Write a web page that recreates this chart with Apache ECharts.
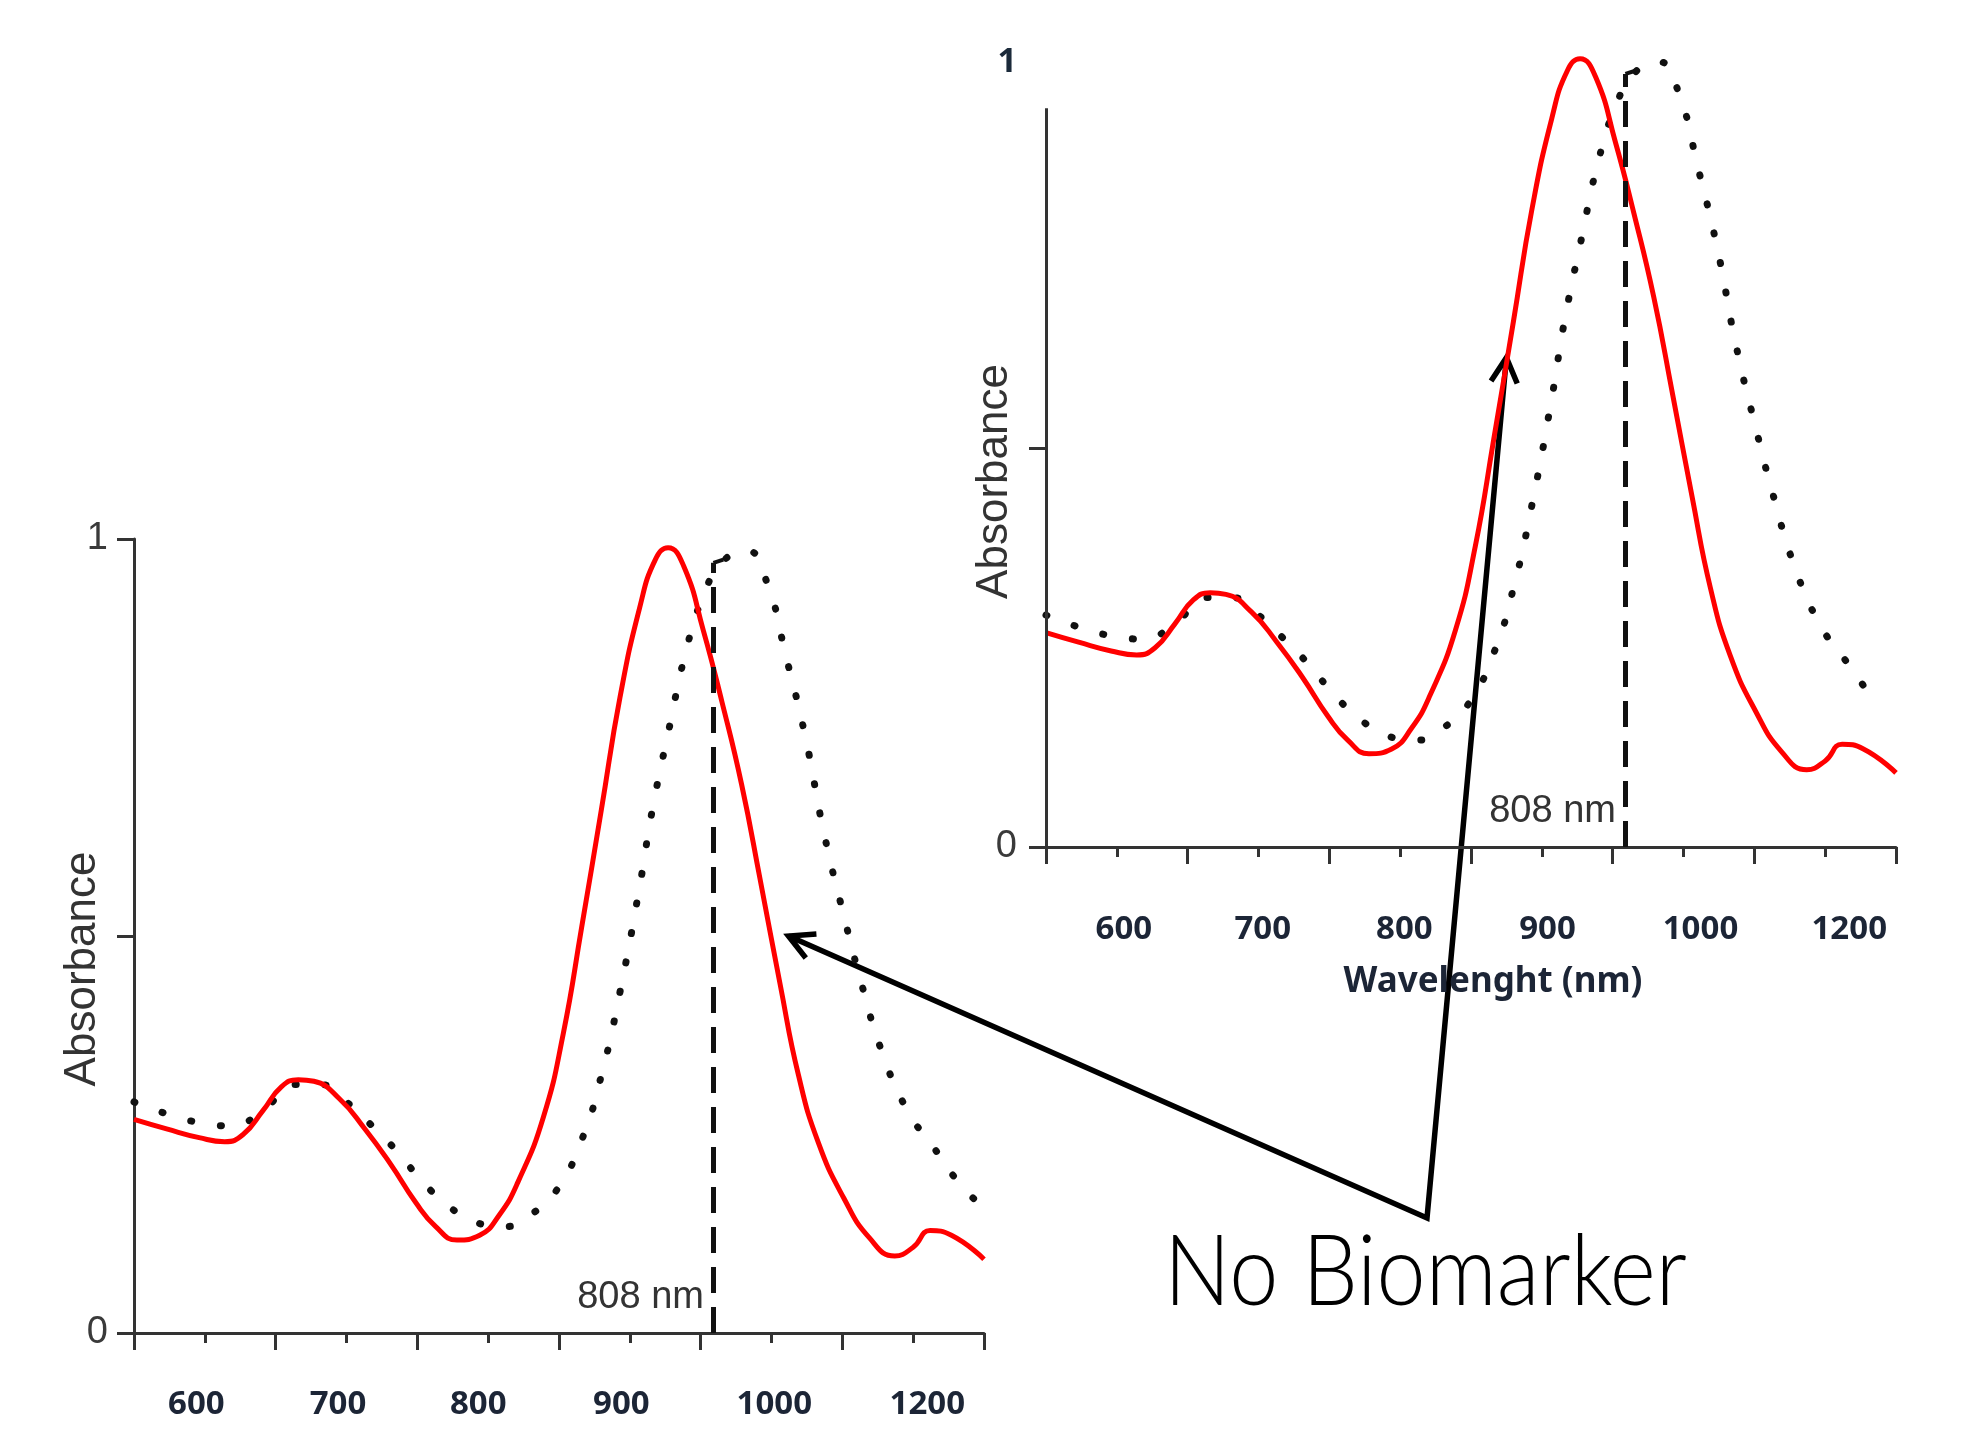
<!DOCTYPE html>
<html>
<head>
<meta charset="utf-8">
<script src="https://cdn.jsdelivr.net/npm/echarts@6/dist/echarts.min.js"></script>
<style>
  html, body { margin: 0; padding: 0; background: #fff; }
  #main { width: 1964px; height: 1430px; }
</style>
</head>
<body>
<div id="main"></div>
<script>
// spectra (wavelength in the chart's own axis units, absorbance 0..1)
var redNm  = [550, 573, 596, 614, 627, 641, 654, 666, 677, 695, 713, 731, 749, 763, 778, 794, 808, 821, 839, 853, 866, 880, 893, 907, 918, 927, 938, 952, 965, 979, 992, 1006, 1019, 1033, 1051, 1069, 1087, 1100, 1112, 1127, 1150];
var redAbs = [0.269, 0.257, 0.246, 0.241, 0.25, 0.28, 0.31, 0.319, 0.317, 0.295, 0.257, 0.213, 0.164, 0.134, 0.117, 0.123, 0.149, 0.19, 0.272, 0.377, 0.511, 0.66, 0.80, 0.914, 0.974, 0.989, 0.966, 0.884, 0.795, 0.69, 0.571, 0.44, 0.325, 0.24, 0.17, 0.12, 0.097, 0.108, 0.129, 0.123, 0.093];

var dotNm  = [550, 573, 596, 618, 641, 663, 681, 700, 718, 736, 754, 772, 790, 812, 830, 848, 866, 880, 893, 907, 916, 929, 938, 952, 967, 983, 997, 1010, 1024, 1037, 1051, 1064, 1078, 1096, 1114, 1132, 1150];
var dotAbs = [0.291, 0.276, 0.265, 0.261, 0.28, 0.313, 0.313, 0.291, 0.261, 0.228, 0.19, 0.16, 0.14, 0.134, 0.149, 0.179, 0.243, 0.325, 0.429, 0.563, 0.66, 0.772, 0.847, 0.929, 0.974, 0.985, 0.944, 0.854, 0.75, 0.63, 0.526, 0.437, 0.354, 0.28, 0.235, 0.19, 0.157];

// tick marks and the (pasted) tick labels of the two copies
var majorTicks = [550, 650, 750, 850, 950, 1050, 1150];
var minorTicks = [600, 700, 800, 900, 1000, 1100];
var xLabels = ['600', '700', '800', '900', '1000', '1200'];
var leftLabelPos = [594, 694, 793, 894, 1002, 1110];
var rightLabelPos = [605, 703, 803, 904, 1012, 1117];

var laserNm = 959;      // where the "808 nm" line sits
var laserTop = 0.97;
var laserText = '808 nm';
var dotEndRight = 1136; // the dotted curve stops early in the right copy
var rightAxisTop = 0.927;

// arrow targets (on the red curves) and note
var leftTip = [1012, 0.50];
var rightTip = [875, 0.614];
var noteText = 'No Biomarker';

function zip(xs, ys, maxX) {
    var out = [];
    for (var i = 0; i < xs.length; i++) {
        if (maxX == null || xs[i] <= maxX) out.push([xs[i], ys[i]]);
    }
    return out;
}

function labelFor(pos) {
    return function (v) {
        for (var i = 0; i < pos.length; i++) {
            if (Math.abs(pos[i] - v) < 0.01) return xLabels[i];
        }
        return '';
    };
}

var axisColor = '#333';
var tickFont = { fontFamily: 'Noto Sans', fontWeight: 'bold', fontSize: 33, color: '#1c2536' };

function majorAxis(grid, pos, margin) {
    return {
        type: 'value', gridIndex: grid, position: 'bottom', min: 550, max: 1150,
        axisLine: { show: true, lineStyle: { color: axisColor, width: 3 } },
        axisTick: { show: true, customValues: majorTicks, length: 17, lineStyle: { color: axisColor, width: 3 } },
        axisLabel: Object.assign({ show: true, customValues: pos, margin: margin, formatter: labelFor(pos) }, tickFont),
        splitLine: { show: false }
    };
}
function minorAxis(grid) {
    return {
        type: 'value', gridIndex: grid, position: 'bottom', min: 550, max: 1150,
        axisLine: { show: false },
        axisTick: { show: true, customValues: minorTicks, length: 10, lineStyle: { color: axisColor, width: 3 } },
        axisLabel: { show: false },
        splitLine: { show: false }
    };
}

var absName = {
    name: 'Absorbance', nameLocation: 'middle', nameRotate: 90, nameGap: 29, nameMoveOverlap: false,
    nameTextStyle: { fontFamily: 'Liberation Sans', fontSize: 44, color: '#333', padding: [0, 66, 0, 0] }
};

var redStyle = { color: '#ff0000', width: 5 };
var dotStyle = { color: '#111', width: 7, type: [1, 29], cap: 'round' };

function laserMarks() {
    return {
        markLine: {
            silent: true, symbol: ['none', 'none'], label: { show: false },
            lineStyle: { color: '#111', width: 5, type: [26, 14] },
            data: [
                [{ coord: [laserNm, 0] }, { coord: [laserNm, laserTop] }],
                [{ coord: [laserNm, laserTop], lineStyle: { type: 'solid', width: 4 } }, { coord: [laserNm + 7, laserTop + 0.004] }]
            ]
        },
        markPoint: {
            silent: true, symbol: 'circle', symbolSize: 1, itemStyle: { color: 'rgba(0,0,0,0)' },
            data: [{
                coord: [laserNm, 0.045],
                label: { show: true, position: 'left', distance: 9, formatter: laserText,
                    fontFamily: 'Liberation Sans', fontSize: 38, color: '#333' }
            }]
        }
    };
}

var chart = echarts.init(document.getElementById('main'));

var rightRedMarks = laserMarks();
rightRedMarks.markLine.data.push([
    { coord: [550, 0], lineStyle: { type: 'solid', width: 3, color: axisColor } },
    { coord: [550, rightAxisTop] }
]);

chart.setOption({
    animation: false,
    backgroundColor: '#fff',
    grid: [
        { left: 134, right: 980, top: 539, bottom: 97 },
        { left: 1046, right: 68, top: 50, bottom: 583 }
    ],
    xAxis: [
        majorAxis(0, leftLabelPos, 55),
        minorAxis(0),
        Object.assign(majorAxis(1, rightLabelPos, 66), {
            name: 'Wavelenght (nm)', nameLocation: 'middle', nameGap: 118, nameMoveOverlap: false,
            nameTextStyle: { fontFamily: 'Noto Sans', fontWeight: 'bold', fontSize: 35, color: '#1c2536', padding: [0, 0, 0, 44] }
        }),
        minorAxis(1)
    ],
    yAxis: [
        Object.assign({
            type: 'value', gridIndex: 0, min: 0, max: 1,
            axisLine: { show: true, lineStyle: { color: axisColor, width: 3 } },
            axisTick: { show: true, customValues: [0, 0.5, 1], length: 17, lineStyle: { color: axisColor, width: 3 } },
            axisLabel: { show: true, customValues: [0, 1], margin: 26, fontFamily: 'Liberation Sans', fontSize: 38, color: '#3a3a3a' },
            splitLine: { show: false }
        }, absName),
        Object.assign({
            type: 'value', gridIndex: 1, min: 0, max: 1,
            axisLine: { show: false },
            axisTick: { show: true, customValues: [0, 0.5], length: 17, lineStyle: { color: axisColor, width: 3 } },
            axisLabel: {
                show: true, customValues: [0, 0.985], margin: 29,
                formatter: function (v) { return v < 0.5 ? '{a|0}' : '{b|1}'; },
                rich: {
                    a: { fontFamily: 'Liberation Sans', fontSize: 38, color: '#3a3a3a' },
                    b: { fontFamily: 'Noto Sans', fontWeight: 'bold', fontSize: 34, color: '#1b2a3a' }
                }
            },
            splitLine: { show: false }
        }, absName)
    ],
    series: [
        { type: 'line', xAxisIndex: 0, yAxisIndex: 0, data: zip(dotNm, dotAbs), smooth: 0.5, showSymbol: false, lineStyle: dotStyle, clip: false },
        Object.assign({ type: 'line', xAxisIndex: 0, yAxisIndex: 0, data: zip(redNm, redAbs), smooth: 0.5, showSymbol: false, lineStyle: redStyle, clip: false }, laserMarks()),
        { type: 'line', xAxisIndex: 2, yAxisIndex: 1, data: zip(dotNm, dotAbs, dotEndRight), smooth: 0.5, showSymbol: false, lineStyle: dotStyle, clip: false },
        Object.assign({ type: 'line', xAxisIndex: 2, yAxisIndex: 1, data: zip(redNm, redAbs), smooth: 0.5, showSymbol: false, lineStyle: redStyle, clip: false }, rightRedMarks)
    ]
});

// annotation: two arrows from the note up to the red curves
var apex = [1427, 1218];
var t1 = chart.convertToPixel({ seriesIndex: 1 }, leftTip);
var t2 = chart.convertToPixel({ seriesIndex: 3 }, rightTip);

function head(tip) {
    var dx = apex[0] - tip[0], dy = apex[1] - tip[1];
    var len = Math.sqrt(dx * dx + dy * dy);
    dx /= len; dy /= len;
    var a = 28 * Math.PI / 180, L = 28;
    function rot(s) {
        var c = Math.cos(s * a), n = Math.sin(s * a);
        return [tip[0] + L * (dx * c - dy * n), tip[1] + L * (dx * n + dy * c)];
    }
    return { type: 'polyline', shape: { points: [rot(1), tip, rot(-1)] },
        style: { stroke: '#000', lineWidth: 5.5, fill: null, lineJoin: 'miter' } };
}

// fit the note to its width in the picture
var ctx = document.createElement('canvas').getContext('2d');
ctx.font = '300 98px Lato';
var sx = 523 / ctx.measureText(noteText).width;

chart.setOption({
    graphic: [
        { type: 'polyline', shape: { points: [t1, apex, t2] }, style: { stroke: '#000', lineWidth: 5.5, fill: null, lineJoin: 'miter' } },
        head(t1),
        head(t2),
        { type: 'text', x: 1164, y: 1273, scaleX: sx,
          style: { text: noteText, x: 0, y: 0, textAlign: 'left', textVerticalAlign: 'middle',
                   fontFamily: 'Lato', fontWeight: 300, fontSize: 98, fill: '#000' } }
    ]
});
</script>
</body>
</html>
